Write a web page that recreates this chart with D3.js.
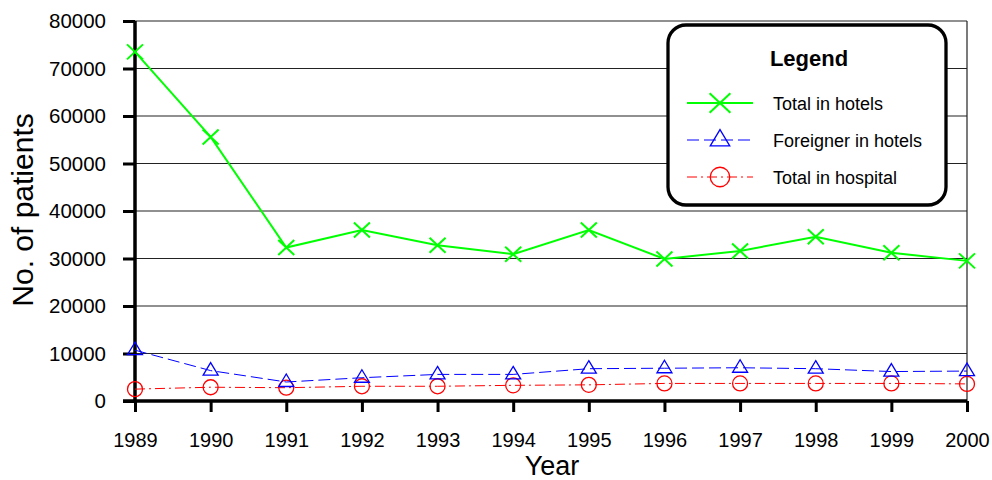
<!DOCTYPE html>
<html>
<head>
<meta charset="utf-8">
<script src="https://cdn.jsdelivr.net/npm/d3@7"></script>
<style>
  body { margin: 0; background: #fff; }
  text { font-family: "Liberation Sans", Arial, sans-serif; }
</style>
</head>
<body>
<svg id="chart"></svg>
<script>
/* CONSTANTS AND GLOBALS */
const width = 992,
  height = 480,
  margin = { top: 21, bottom: 79, left: 135, right: 25 };

// data
const years = [1989, 1990, 1991, 1992, 1993, 1994, 1995, 1996, 1997, 1998, 1999, 2000];
const totalHotels = [73500, 55600, 32300, 36000, 32800, 30900, 36000, 29900, 31600, 34600, 31200, 29500];
const foreignHotels = [10700, 6400, 4000, 4900, 5600, 5600, 6800, 6900, 7000, 6800, 6200, 6300];
const totalHospital = [2500, 2900, 2800, 3100, 3100, 3300, 3400, 3700, 3700, 3700, 3700, 3600];
const yTicks = [0, 10000, 20000, 30000, 40000, 50000, 60000, 70000, 80000];
const seriesNames = ["Total in hotels", "Foreigner in hotels", "Total in hospital"];

const svg = d3.select("#chart")
  .attr("width", width)
  .attr("height", height);

const x = d3.scalePoint()
  .domain(years)
  .range([margin.left, width - margin.right]);

const y = d3.scaleLinear()
  .domain([0, 80000])
  .range([height - margin.bottom, margin.top]);

// gridlines
svg.append("g")
  .selectAll("line")
  .data(yTicks.slice(1))
  .join("line")
    .attr("x1", margin.left)
    .attr("x2", width - margin.right)
    .attr("y1", d => y(d))
    .attr("y2", d => y(d))
    .attr("stroke", "#222")
    .attr("stroke-width", 1.2);

// right border
svg.append("line")
  .attr("x1", width - margin.right).attr("x2", width - margin.right)
  .attr("y1", y(80000)).attr("y2", y(0))
  .attr("stroke", "#222")
  .attr("stroke-width", 1.2);

// axes
const yAxis = svg.append("g")
  .attr("transform", `translate(${margin.left},0)`)
  .call(d3.axisLeft(y).tickValues(yTicks).tickSize(12).tickPadding(17).tickFormat(d3.format("d")));
yAxis.select(".domain").attr("stroke-width", 3.5).attr("d", `M0,${y(0) + 2}V${y(80000)}`);
yAxis.selectAll(".tick line").attr("stroke-width", 3);
yAxis.selectAll(".tick text").attr("font-size", 20.5).attr("fill", "#000");

const xAxis = svg.append("g")
  .attr("transform", `translate(0,${y(0)})`)
  .call(d3.axisBottom(x).tickSize(11).tickPadding(21).tickFormat(d3.format("d")));
xAxis.select(".domain").attr("stroke-width", 3.5).attr("d", `M${margin.left - 12},0H${width - margin.right}`);
xAxis.selectAll(".tick line").attr("stroke-width", 3);
xAxis.selectAll(".tick text").attr("font-size", 20).attr("fill", "#000");

// axis titles
svg.append("text")
  .attr("transform", `translate(33,210) rotate(-90)`)
  .attr("text-anchor", "middle")
  .attr("font-size", 30)
  .text("No. of patients");

svg.append("text")
  .attr("x", 552)
  .attr("y", 475)
  .attr("text-anchor", "middle")
  .attr("font-size", 27)
  .text("Year");

// series
const series = [
  { name: seriesNames[0], values: totalHotels, color: "#00ff00", width: 2, dash: null, marker: "x" },
  { name: seriesNames[1], values: foreignHotels, color: "#0000ff", width: 1, dash: "12,5", marker: "tri" },
  { name: seriesNames[2], values: totalHospital, color: "#ff0000", width: 1, dash: "10,4,2,4", marker: "circle" }
];

const line = d3.line()
  .x((d, i) => x(years[i]))
  .y(d => y(d));

function drawMarker(g, type, color, k) {
  if (type === "x") {
    g.append("path").attr("d", `M${-8 * k},${-7.5 * k}L${8 * k},${7.5 * k}M${-8 * k},${7.5 * k}L${8 * k},${-7.5 * k}`)
      .attr("stroke", color).attr("stroke-width", 2).attr("fill", "none");
  } else if (type === "tri") {
    g.append("path").attr("d", `M0,${-8 * k}L${7.5 * k},${4.5 * k}L${-7.5 * k},${4.5 * k}Z`)
      .attr("stroke", color).attr("stroke-width", 1.3).attr("fill", "none");
  } else {
    g.append("circle").attr("r", 7.5 * k)
      .attr("stroke", color).attr("stroke-width", 1.3).attr("fill", "none");
  }
}

series.slice().reverse().forEach(s => {
  svg.append("path")
    .datum(s.values)
    .attr("d", line)
    .attr("fill", "none")
    .attr("stroke", s.color)
    .attr("stroke-width", s.width)
    .attr("stroke-dasharray", s.dash);

  s.values.forEach((v, i) => {
    const g = svg.append("g").attr("transform", `translate(${x(years[i])},${y(v)})`);
    drawMarker(g, s.marker, s.color, 1);
  });
});

// legend
const legend = svg.append("g").attr("transform", "translate(668,25)");
legend.append("rect")
  .attr("width", 278).attr("height", 180)
  .attr("rx", 18).attr("ry", 18)
  .attr("fill", "#fff")
  .attr("stroke", "#000")
  .attr("stroke-width", 3.3);
legend.append("text")
  .attr("x", 141).attr("y", 41)
  .attr("text-anchor", "middle")
  .attr("font-size", 22)
  .attr("font-weight", "bold")
  .text("Legend");

series.forEach((s, i) => {
  const ly = 78 + i * 37;
  legend.append("line")
    .attr("x1", 19).attr("x2", 85)
    .attr("y1", ly).attr("y2", ly)
    .attr("stroke", s.color)
    .attr("stroke-width", s.width)
    .attr("stroke-dasharray", s.dash);
  drawMarker(legend.append("g").attr("transform", `translate(52,${ly})`), s.marker, s.color, 1.3);
  legend.append("text")
    .attr("x", 105).attr("y", ly + 7)
    .attr("font-size", 18)
    .text(s.name);
});
</script>
</body>
</html>
